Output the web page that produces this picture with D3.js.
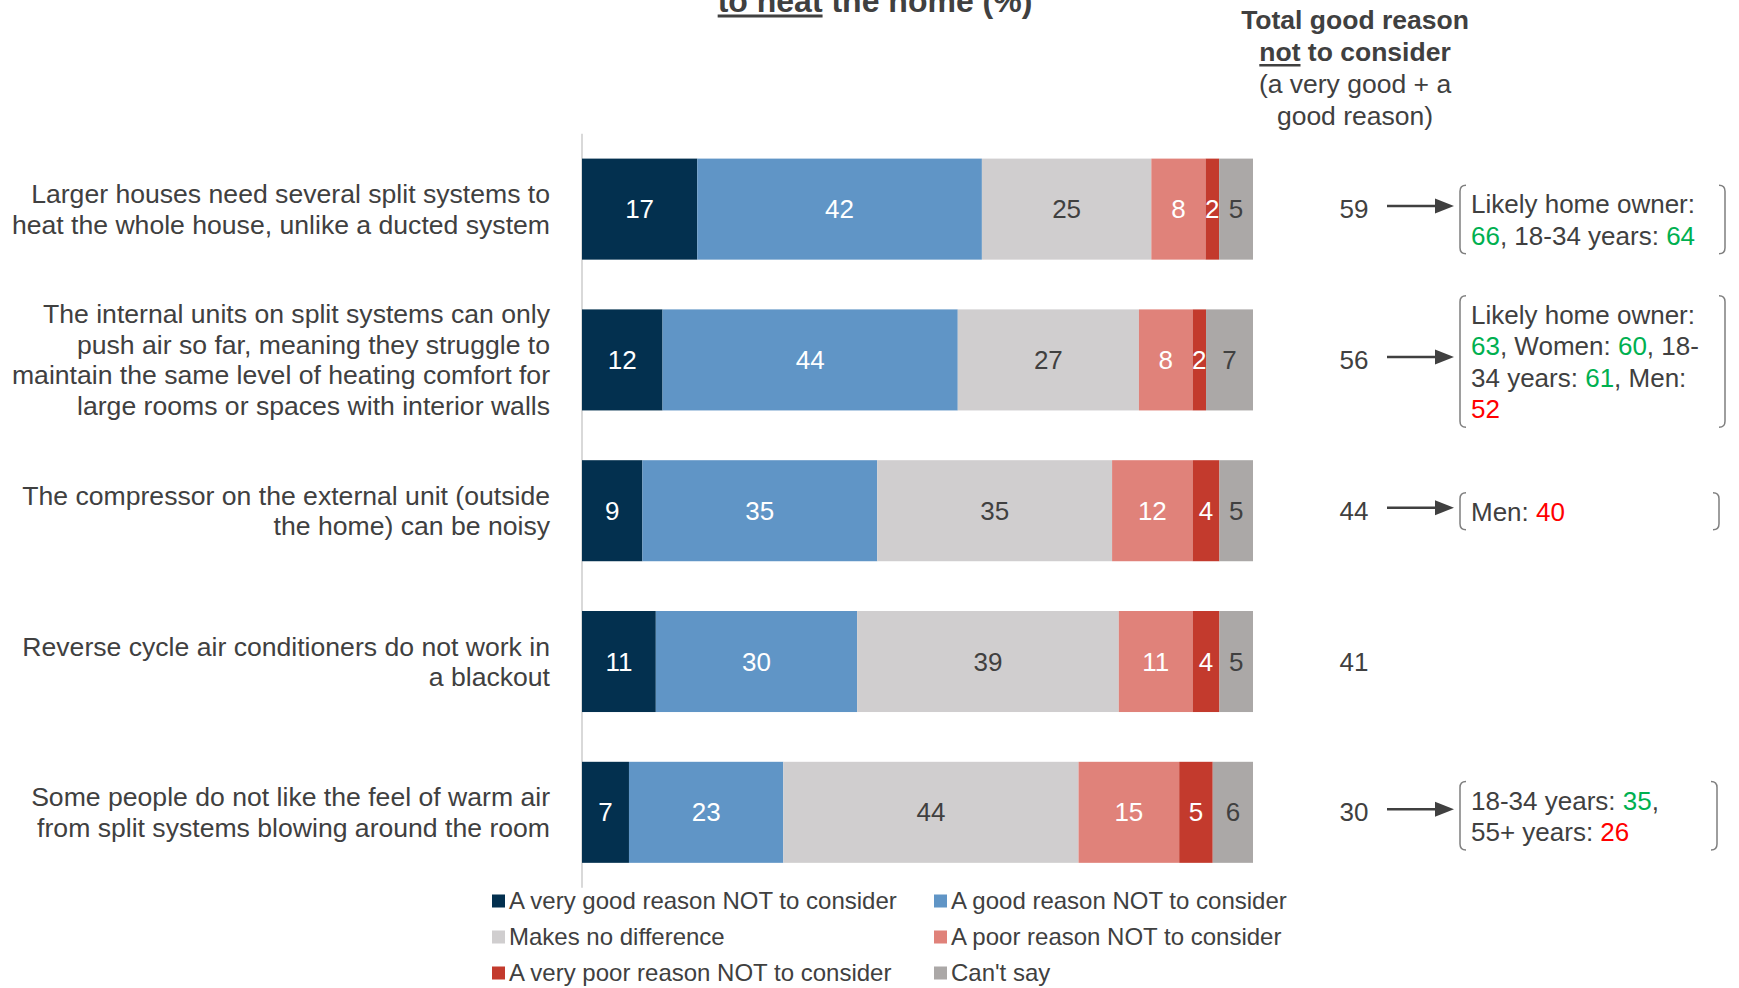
<!DOCTYPE html>
<html>
<head>
<meta charset="utf-8">
<script src="https://cdn.jsdelivr.net/npm/d3@7"></script>
<style>
  html, body { margin: 0; padding: 0; background: #ffffff; }
  svg { display: block; font-family: "Liberation Sans", Arial, sans-serif; }
</style>
</head>
<body>
<svg id="chart" width="1739" height="988"></svg>
<script>
// ---- Data -------------------------------------------------------------
const categoryLines = [
  ["Larger houses need several split systems to", "heat the whole house, unlike a ducted system"],
  ["The internal units on split systems can only", "push air so far, meaning they struggle to",
   "maintain the same level of heating comfort for", "large rooms or spaces with interior walls"],
  ["The compressor on the external unit (outside", "the home) can be noisy"],
  ["Reverse cycle air conditioners do not work in", "a blackout"],
  ["Some people do not like the feel of warm air", "from split systems blowing around the room"]
];
const categories = categoryLines.map(l => l.join(" "));

const seriesNames = [
  "A very good reason NOT to consider",
  "A good reason NOT to consider",
  "Makes no difference",
  "A poor reason NOT to consider",
  "A very poor reason NOT to consider",
  "Can't say"
];
const veryGood = [17, 12, 9, 11, 7];
const good     = [42, 44, 35, 30, 23];
const noDiff   = [25, 27, 35, 39, 44];
const poor     = [8, 8, 12, 11, 15];
const veryPoor = [2, 2, 4, 4, 5];
const cantSay  = [5, 7, 5, 5, 6];
const seriesValues = [veryGood, good, noDiff, poor, veryPoor, cantSay];

// Subgroup call-outs: lines of [text, tone] pieces ("up" = higher, "down" = lower)
const subgroupNotes = [
  [[["Likely home owner:", ""]],
   [["66", "up"], [", 18-34 years: ", ""], ["64", "up"]]],
  [[["Likely home owner:", ""]],
   [["63", "up"], [", Women: ", ""], ["60", "up"], [", 18-", ""]],
   [["34 years: ", ""], ["61", "up"], [", Men:", ""]],
   [["52", "down"]]],
  [[["Men: ", ""], ["40", "down"]]],
  null,
  [[["18-34 years: ", ""], ["35", "up"], [",", ""]],
   [["55+ years: ", ""], ["26", "down"]]]
];

// ---- Styling / layout -------------------------------------------------
const colors = ["#03304f", "#6095c6", "#d0cecf", "#e0827a", "#c33a2d", "#aba8a7"];
const labelColors = ["#ffffff", "#ffffff", "#404040", "#ffffff", "#ffffff", "#404040"];
const textColor = "#404040";
const toneColor = { "": textColor, up: "#00b050", down: "#ff0000" };
const noteRight = [1725, 1725, 1719, null, 1717];
const noteShift = [11, 2, 1, 0, 4];

const svg = d3.select("#chart");

const rows = categories.map((c, i) => {
  const r = { category: c };
  seriesNames.forEach((s, j) => { r[s] = seriesValues[j][i]; });
  return r;
});

const stack = d3.stack().keys(seriesNames).offset(d3.stackOffsetExpand);
const stacked = stack(rows);

const x = d3.scaleLinear().domain([0, 1]).range([582, 1253]);
const pInner = 0.33, step = 150.8, firstTop = 158.6;
const y = d3.scaleBand()
  .domain(categories)
  .range([firstTop - step * pInner / 2, firstTop - step * pInner / 2 + step * categories.length])
  .paddingInner(pInner)
  .paddingOuter(pInner / 2);
const yc = c => y(c) + y.bandwidth() / 2;

// ---- Title (lower line) -------------------------------------------------
const title = svg.append("text")
  .attr("y", 12)
  .attr("font-size", 32)
  .attr("font-weight", "bold")
  .attr("fill", textColor);
const tA = title.append("tspan").text("to heat");
title.append("tspan").text(" the home (%)");
const titleW = title.node().getComputedTextLength();
const titleX = 875 - titleW / 2;
title.attr("x", titleX);
const underW = tA.node().getComputedTextLength();
svg.append("rect")
  .attr("x", titleX).attr("y", 14.5)
  .attr("width", underW).attr("height", 3)
  .attr("fill", textColor);

// ---- Header of totals column -------------------------------------------
const hx = 1355;
const headerLines = [
  { t: "Total good reason", b: true, y: 29 },
  { t: "not to consider", b: true, y: 61 },
  { t: "(a very good + a", b: false, y: 93 },
  { t: "good reason)", b: false, y: 125 }
];
headerLines.forEach((h, i) => {
  const t = svg.append("text")
    .attr("x", hx).attr("y", h.y)
    .attr("text-anchor", "middle")
    .attr("font-size", 26.5)
    .attr("font-weight", h.b ? "bold" : "normal")
    .attr("fill", textColor);
  if (i === 1) {
    const n = t.append("tspan").text("not");
    t.append("tspan").text(" to consider");
    const full = t.node().getComputedTextLength();
    const nw = n.node().getComputedTextLength();
    svg.append("rect")
      .attr("x", hx - full / 2).attr("y", h.y + 3)
      .attr("width", nw).attr("height", 2.5)
      .attr("fill", textColor);
  } else {
    t.text(h.t);
  }
});

// ---- Axis line ----------------------------------------------------------
svg.append("line")
  .attr("x1", x(0)).attr("x2", x(0))
  .attr("y1", y.range()[0]).attr("y2", y.range()[1])
  .attr("stroke", "#d9d9d9").attr("stroke-width", 2);

// ---- Bars ---------------------------------------------------------------
const layers = svg.append("g").selectAll("g")
  .data(stacked)
  .join("g")
  .attr("fill", (d, i) => colors[i]);

layers.selectAll("rect")
  .data(d => d)
  .join("rect")
  .attr("x", d => x(d[0]))
  .attr("y", d => y(d.data.category))
  .attr("width", d => x(d[1]) - x(d[0]))
  .attr("height", y.bandwidth());

layers.each(function (layer, i) {
  d3.select(this).selectAll("text")
    .data(layer)
    .join("text")
    .attr("x", d => (x(d[0]) + x(d[1])) / 2)
    .attr("y", d => yc(d.data.category))
    .attr("dy", "0.35em")
    .attr("text-anchor", "middle")
    .attr("font-size", 26)
    .attr("fill", labelColors[i])
    .text(d => d.data[layer.key]);
});

// ---- Category labels ----------------------------------------------------
const lineH = 30.5;
categories.forEach((c, i) => {
  const lines = categoryLines[i];
  const t = svg.append("text")
    .attr("text-anchor", "end")
    .attr("font-size", 26.6)
    .attr("fill", textColor);
  lines.forEach((ln, k) => {
    t.append("tspan")
      .attr("x", 550)
      .attr("y", yc(c) + (k - (lines.length - 1) / 2) * lineH)
      .attr("dy", "0.35em")
      .text(ln);
  });
});

// ---- Totals (very good + good) -----------------------------------------
const totals = categories.map((c, i) => veryGood[i] + good[i]);
svg.append("g").selectAll("text")
  .data(categories)
  .join("text")
  .attr("x", hx - 1)
  .attr("y", c => yc(c))
  .attr("dy", "0.35em")
  .attr("text-anchor", "middle")
  .attr("font-size", 26)
  .attr("fill", textColor)
  .text((c, i) => totals[i]);

// ---- Call-outs ----------------------------------------------------------
const noteLineH = 31.5;
const bx = 1460;
categories.forEach((c, i) => {
  const note = subgroupNotes[i];
  if (!note) return;
  const cy = yc(c);
  // arrow
  const ay = cy - 3;
  svg.append("line")
    .attr("x1", 1387).attr("x2", 1440)
    .attr("y1", ay).attr("y2", ay)
    .attr("stroke", textColor).attr("stroke-width", 2.5);
  svg.append("path")
    .attr("d", `M1435,${ay - 7.5}L1454,${ay}L1435,${ay + 7.5}Z`)
    .attr("fill", textColor);

  const mid = cy + noteShift[i];
  const first = mid - (note.length - 1) / 2 * noteLineH;
  const last = mid + (note.length - 1) / 2 * noteLineH;
  const top = first - 19, bottom = last + 18;
  const r = 6, right = noteRight[i];
  svg.append("path")
    .attr("d", `M${bx + r},${top}Q${bx},${top} ${bx},${top + r}L${bx},${bottom - r}Q${bx},${bottom} ${bx + r},${bottom}`)
    .attr("fill", "none").attr("stroke", "#7f7f7f").attr("stroke-width", 1.5);
  svg.append("path")
    .attr("d", `M${right - r},${top}Q${right},${top} ${right},${top + r}L${right},${bottom - r}Q${right},${bottom} ${right - r},${bottom}`)
    .attr("fill", "none").attr("stroke", "#7f7f7f").attr("stroke-width", 1.5);

  note.forEach((line, k) => {
    const t = svg.append("text")
      .attr("x", bx + 11)
      .attr("y", first + k * noteLineH)
      .attr("dy", "0.35em")
      .attr("font-size", 26);
    line.forEach(([txt, tone]) => {
      t.append("tspan").attr("fill", toneColor[tone]).text(txt);
    });
  });
});

// ---- Legend -------------------------------------------------------------
const legendCols = [492, 934];
const legendRows = [901, 937, 973];
seriesNames.forEach((s, i) => {
  const lx = legendCols[i % 2];
  const ly = legendRows[Math.floor(i / 2)];
  svg.append("rect")
    .attr("x", lx).attr("y", ly - 6.5)
    .attr("width", 13).attr("height", 13)
    .attr("fill", colors[i]);
  svg.append("text")
    .attr("x", lx + 17).attr("y", ly)
    .attr("dy", "0.35em")
    .attr("font-size", 24)
    .attr("fill", textColor)
    .text(s);
});
</script>
</body>
</html>
